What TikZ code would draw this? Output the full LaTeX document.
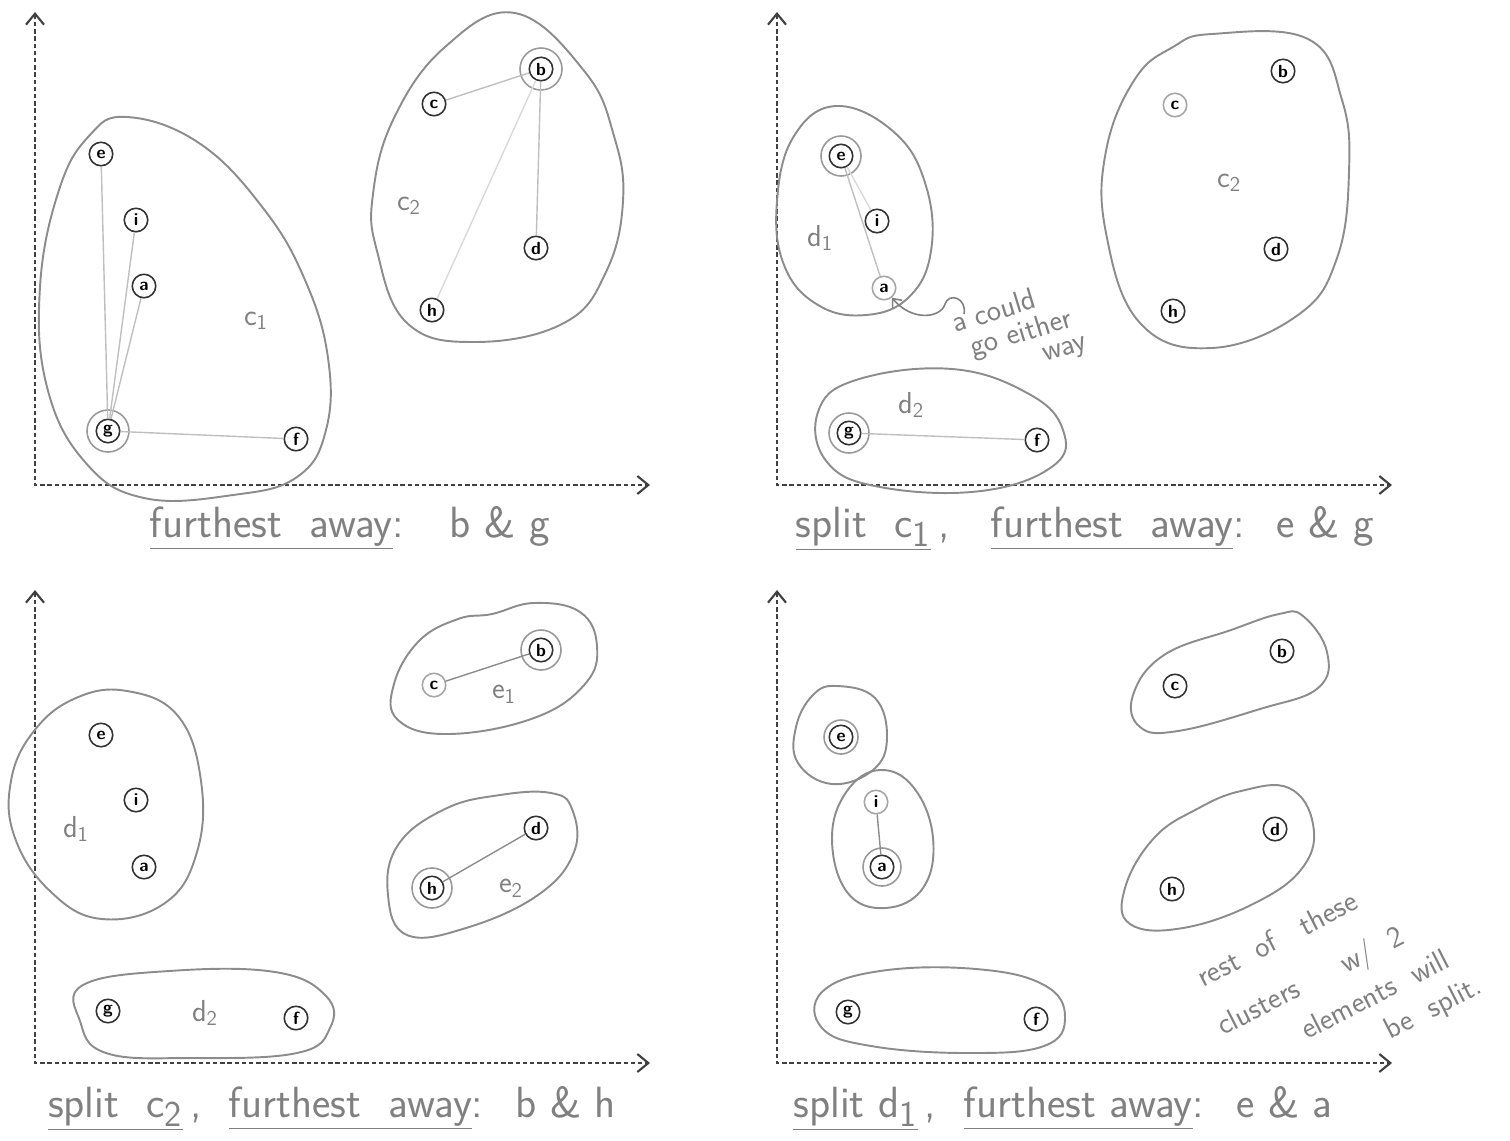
\documentclass[tikz,border=0pt]{standalone}
\usetikzlibrary{arrows.meta}

\begin{document}
\begin{tikzpicture}[x=0.02cm, y=-0.02cm]
    \tikzset{
      pt/.style={
        circle, draw=black!80, line width=0.9pt, fill=white,
        minimum size=0.47cm, inner sep=0pt, font=\sffamily\bfseries
      },
      ptlight/.style={pt, draw=black!35},
      ring/.style={draw=black!40, line width=0.9pt},
      blob/.style={draw=black!45, line width=1.1pt},
      link/.style={draw=black!25, line width=0.8pt},
      axis/.style={
        draw=black!75, line width=1.2pt, dash pattern=on 2.5pt off 1.6pt,
        {Straight Barb[length=2.2mm,width=3.6mm]}-{Straight Barb[length=2.2mm,width=3.6mm]}
      },
      hand/.style={text=black!50, font=\sffamily\LARGE},
      caption/.style={text=black!50, font=\sffamily\Huge},
      noteline/.style={text=black!50, font=\sffamily\LARGE, rotate=27, anchor=base west, inner sep=0pt}
    }
    \useasboundingbox (0,0) rectangle (1510,1140);

    % axes of the four panels
    \foreach \ox/\oy [count=\k] in {35/485, 777/485, 35/1063, 777/1063} {
      \coordinate (o\k) at (\ox,\oy);
      \coordinate (xend\k) at (\ox+615,\oy);
      \coordinate (yend\k) at (\ox,\oy-473);
      \draw[axis] (yend\k) -- (o\k) -- (xend\k);
    }

    % Panel 1
    \draw[blob] plot[smooth cycle, tension=0.7] coordinates {(127,117) (199,143) (263,208) (305,280) (328,358) (326,430) (297,477) (233,495) (144,498) (85,462) (47,387) (40,287) (59,190) (89,136)};
    \draw[blob] plot[smooth cycle, tension=0.7] coordinates {(515,13) (585,72) (614,136) (623,201) (606,272) (564,323) (475,342) (407,323) (377,251) (373,194) (394,118) (445,47)};
    \node[pt] (p1e) at (101,154) {e};
    \node[pt] (p1i) at (136,220) {i};
    \node[pt] (p1a) at (144,286) {a};
    \node[pt] (p1g) at (108,431) {g};
    \node[pt] (p1f) at (296,439) {f};
    \node[pt] (p1b) at (541,69) {b};
    \node[pt] (p1c) at (434,104) {c};
    \node[pt] (p1d) at (536,248) {d};
    \node[pt] (p1h) at (432,310) {h};
    \draw[ring] (p1g) circle[radius=21];
    \draw[ring] (p1b) circle[radius=21];
    \draw[link] (p1g) -- (p1e);
    \draw[link] (p1g) -- (p1i);
    \draw[link] (p1g) -- (p1a);
    \draw[link] (p1g) -- (p1f);
    \draw[link] (p1b) -- (p1c);
    \draw[link] (p1b) -- (p1d);
    \draw[link, draw=black!15] (p1b) -- (p1h);
    \node[hand] (lc11) at (256,321) {c\textsubscript{1}};
    \node[hand] (lc21) at (409,206) {c\textsubscript{2}};
    \node[caption] (cap1) at (350,528) {\underline{furthest \ away}: \ \ b \& g};

    % Panel 2
    \draw[blob] plot[smooth cycle, tension=0.7] coordinates {(837,106) (895,133) (926,186) (931,251) (909,297) (866,315) (818,305) (784,265) (777,201) (794,136)};
    \draw[blob] plot[smooth cycle, tension=0.7] coordinates {(818,412) (856,380) (952,369) (1029,394) (1063,430) (1053,466) (981,491) (880,487) (827,462)};
    \draw[blob] plot[smooth cycle, tension=0.7] coordinates {(1212,34) (1308,39) (1342,100) (1349,172) (1337,258) (1298,315) (1212,348) (1140,323) (1106,233) (1106,151) (1135,79) (1173,47)};
    \node[pt] (p2e) at (841,156) {e};
    \node[pt] (p2i) at (877,221) {i};
    \node[ptlight] (p2a) at (884,288) {a};
    \node[pt] (p2g) at (849,433) {g};
    \node[pt] (p2f) at (1037,440) {f};
    \node[pt] (p2b) at (1283,71) {b};
    \node[ptlight] (p2c) at (1175,105) {c};
    \node[pt] (p2d) at (1276,249) {d};
    \node[pt] (p2h) at (1173,311) {h};
    \draw[ring] (p2e) circle[radius=20];
    \draw[ring] (p2g) circle[radius=20];
    \draw[link] (p2e) -- (p2a);
    \draw[link, draw=black!15] (p2e) -- (p2i);
    \draw[link] (p2g) -- (p2f);
    \node[hand] (ld11) at (820,238) {d\textsubscript{1}};
    \node[hand] (ld21) at (911,405) {d\textsubscript{2}};
    \node[hand] (lc22) at (1229,183) {c\textsubscript{2}};
    \coordinate (wave) at (964,314);
    \draw[draw=black!50, line width=0.9pt, -{Straight Barb[length=1.4mm,width=2.4mm]}]
      (wave) .. controls (967,298) and (949,292) .. (945,304)
      .. controls (941,318) and (912,322) .. (p2a);
    \node[noteline, rotate=-10] (note1) at (955,333) {a could};
    \node[noteline, rotate=-10] (note2) at (973,357) {go either};
    \node[noteline, rotate=-10] (note3) at (1045,362) {way};
    \node[caption] (cap2) at (1085,528)
      {\underline{split \ c\textsubscript{1}}\,, \ \ \underline{furthest \ away}: \ e \& g};

    % Panel 3
    \draw[blob] plot[smooth cycle, tension=0.7] coordinates {(127,691) (178,716) (201,781) (197,852) (165,903) (102,919) (51,892) (15,838) (11,781) (34,731) (76,698)};
    \draw[blob] plot[smooth cycle, tension=0.7] coordinates {(83,985) (169,971) (275,972) (326,996) (330,1028) (297,1053) (191,1058) (106,1053) (80,1021)};
    \draw[blob] plot[smooth cycle, tension=0.7] coordinates {(492,614) (534,603) (580,612) (597,646) (585,684) (534,718) (449,734) (398,720) (394,684) (419,641) (458,619)};
    \draw[blob] plot[smooth cycle, tension=0.7] coordinates {(551,793) (572,809) (574,852) (538,895) (466,928) (407,935) (388,895) (398,845) (445,809) (500,795)};
    \node[pt] (p3e) at (101,735) {e};
    \node[pt] (p3i) at (136,800) {i};
    \node[pt] (p3a) at (144,867) {a};
    \node[pt] (p3g) at (108,1011) {g};
    \node[pt] (p3f) at (296,1018) {f};
    \node[pt] (p3b) at (541,650) {b};
    \node[ptlight] (p3c) at (434,685) {c};
    \node[pt] (p3d) at (536,828) {d};
    \node[pt] (p3h) at (432,888) {h};
    \draw[ring] (p3b) circle[radius=20];
    \draw[ring] (p3h) circle[radius=20];
    \draw[link, draw=black!45] (p3c) -- (p3b);
    \draw[link, draw=black!45] (p3h) -- (p3d);
    \node[hand] (ld12) at (76,829) {d\textsubscript{1}};
    \node[hand] (ld22) at (205,1013) {d\textsubscript{2}};
    \node[hand] (le1) at (504,694) {e\textsubscript{1}};
    \node[hand] (le2) at (511,888) {e\textsubscript{2}};
    \node[caption] (cap3) at (332,1108)
      {\underline{split \ c\textsubscript{2}}\,, \ \underline{furthest \ away}: \ b \& h};

    % Panel 4
    \draw[blob] plot[smooth cycle, tension=0.7] coordinates {(837,686) (875,698) (887,738) (873,770) (832,784) (798,763) (796,727) (813,695)};
    \draw[blob] plot[smooth cycle, tension=0.7] coordinates {(880,770) (914,788) (933,838) (923,888) (885,908) (847,892) (832,838) (847,791)};
    \draw[blob] plot[smooth cycle, tension=0.7] coordinates {(1303,616) (1327,652) (1318,688) (1260,709) (1178,731) (1140,727) (1133,695) (1164,655) (1231,630) (1279,614)};
    \draw[blob] plot[smooth cycle, tension=0.7] coordinates {(1289,788) (1313,824) (1303,867) (1255,903) (1183,928) (1130,924) (1125,888) (1154,838) (1197,809) (1241,791)};
    \draw[blob] plot[smooth cycle, tension=0.7] coordinates {(822,992) (880,971) (976,969) (1044,985) (1065,1017) (1044,1046) (967,1053) (871,1046) (822,1028)};
    \node[pt] (p4e) at (841,737) {e};
    \node[ptlight] (p4i) at (876,802) {i};
    \node[pt] (p4a) at (882,867) {a};
    \node[pt] (p4g) at (848,1012) {g};
    \node[pt] (p4f) at (1036,1019) {f};
    \node[pt] (p4b) at (1282,651) {b};
    \node[pt] (p4c) at (1175,686) {c};
    \node[pt] (p4d) at (1275,829) {d};
    \node[pt] (p4h) at (1172,889) {h};
    \draw[ring] (p4e) circle[radius=17];
    \draw[ring] (p4a) circle[radius=19];
    \draw[link, draw=black!45] (p4i) -- (p4a);
    \node[noteline] (rest1) at (1203,988) {rest \ of \ \ these};
    \node[noteline] (rest2) at (1223,1036) {clusters \quad\ w/ \ 2};
    \node[noteline] (rest3) at (1307,1040) {elements \ will};
    \node[noteline] (rest4) at (1390,1040) {be \ split.};
    \node[caption] (cap4) at (1063,1108)
      {\underline{split d\textsubscript{1}}\,, \ \underline{furthest away}: \ e \& a};
\end{tikzpicture}
\end{document}
